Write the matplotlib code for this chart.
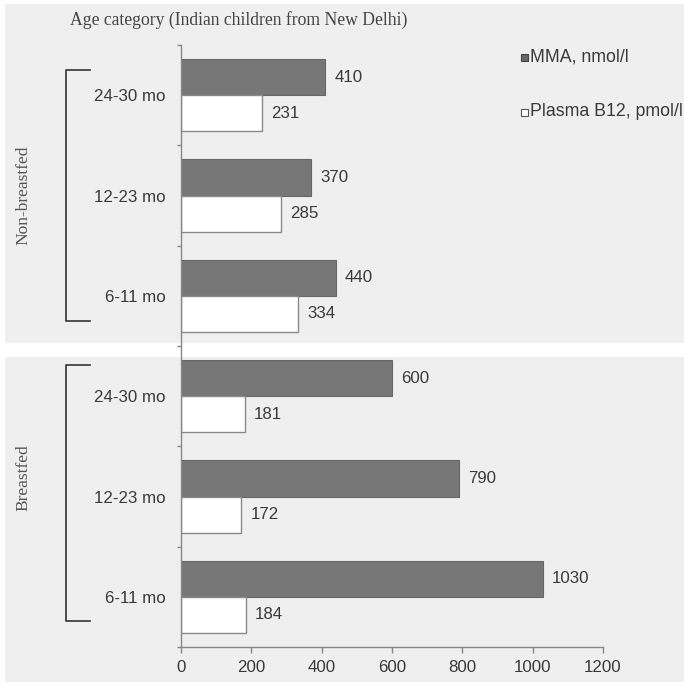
import matplotlib
matplotlib.use("Agg")
import matplotlib.pyplot as plt
from matplotlib.patches import Rectangle
from matplotlib.lines import Line2D

# Data: MMA and plasma B12 by age group and feeding status
groups = ["Non-breastfed", "Breastfed"]
ages = ["24-30 mo", "12-23 mo", "6-11 mo"]
mma_nonbf = [410, 370, 440]      # nmol/l
b12_nonbf = [231, 285, 334]      # pmol/l
mma_bf = [600, 790, 1030]        # nmol/l
b12_bf = [181, 172, 184]         # pmol/l
x_ticks = [0, 200, 400, 600, 800, 1000, 1200]

W, H = 684, 685
DPI = 100
fig = plt.figure(figsize=(W / DPI, H / DPI), dpi=DPI)
fig.patch.set_facecolor("white")

SANS = "Liberation Sans"
SERIF = "Liberation Serif"
FS = 12.2
TXT = "#3a3a3a"


def fx(px):
    return px / W


def fy(py):
    return 1 - py / H


# light grey panels behind each feeding group
panel_col = "#efefef"
for top, bot in [(4, 343), (357, 682)]:
    fig.patches.append(Rectangle((fx(5), fy(bot)), fx(684) - fx(5), fy(top) - fy(bot),
                                 transform=fig.transFigure, facecolor=panel_col,
                                 edgecolor="none", zorder=-10))

ax = fig.add_axes([fx(181), fy(647), fx(603) - fx(181), fy(45) - fy(647)])
ax.set_facecolor("none")
ax.set_zorder(1)

# stack categories top to bottom: non-breastfed first, then breastfed
labels = ages + ages
mma = mma_nonbf + mma_bf
b12 = b12_nonbf + b12_bf
n = len(labels)
pos = [n - 1 - i for i in range(n)]
h = 0.36

ax.barh([p + h / 2 for p in pos], mma, height=h, color="#777777",
        edgecolor="#666666", linewidth=0.8, zorder=2)
ax.barh([p - h / 2 for p in pos], b12, height=h, color="white",
        edgecolor="#8a8a8a", linewidth=1.0, zorder=2)

for p, v in zip(pos, mma):
    ax.annotate(f"{v}", (v, p + h / 2), xytext=(6.5, 0), textcoords="offset points",
                va="center", ha="left", fontsize=FS, family=SANS, color=TXT)
for p, v in zip(pos, b12):
    ax.annotate(f"{v}", (v, p - h / 2), xytext=(6.5, 0), textcoords="offset points",
                va="center", ha="left", fontsize=FS, family=SANS, color=TXT)

ax.set_xlim(0, 1200)
ax.set_ylim(-0.5, n - 0.5)

ax.set_xticks(x_ticks)
ax.set_xticklabels([str(t) for t in x_ticks], fontsize=FS, family=SANS, color=TXT)
ax.tick_params(axis="x", direction="out", length=4, width=1, color="#888888", pad=5)

# tick marks on category boundaries, labels at category centres
ax.set_yticks([i - 0.5 for i in range(n + 1)])
ax.set_yticklabels([])
ax.tick_params(axis="y", which="major", direction="out", length=3, width=1, color="#888888")
ax.set_yticks(pos, minor=True)
ax.set_yticklabels(labels, minor=True, fontsize=FS, family=SANS, color=TXT)
ax.tick_params(axis="y", which="minor", length=0, pad=11)

for s in ["top", "right"]:
    ax.spines[s].set_visible(False)
for s in ["left", "bottom"]:
    ax.spines[s].set_color("#888888")
    ax.spines[s].set_linewidth(1.0)

# group brackets and rotated group names
for top, bot, name, cy in [(70, 321, groups[0], 195), (365, 621, groups[1], 478)]:
    xs = [fx(90), fx(66), fx(66), fx(90)]
    ys = [fy(top), fy(top), fy(bot), fy(bot)]
    fig.lines.append(Line2D(xs, ys, transform=fig.transFigure, color="#333333",
                            linewidth=1.2, solid_joinstyle="round"))
    fig.text(fx(23), fy(cy), name, rotation=90, ha="center", va="center",
             fontsize=12.5, family=SERIF, color="#555555")

fig.text(fx(70), fy(20), "Age category (Indian children from New Delhi)",
         ha="left", va="center", fontsize=12.7, family=SERIF, color="#444444")

# legend
for cy, face, edge, txt in [(57, "#666666", "#444444", "MMA, nmol/l"),
                            (112, "white", "#555555", "Plasma B12, pmol/l")]:
    fig.patches.append(Rectangle((fx(521), fy(cy + 3.5)), fx(7), 7 / H,
                                 transform=fig.transFigure, facecolor=face,
                                 edgecolor=edge, linewidth=0.8))
    fig.text(fx(530), fy(cy), txt, ha="left", va="center", fontsize=12.8,
             family=SANS, color=TXT)

fig.savefig("out.png", dpi=DPI)
